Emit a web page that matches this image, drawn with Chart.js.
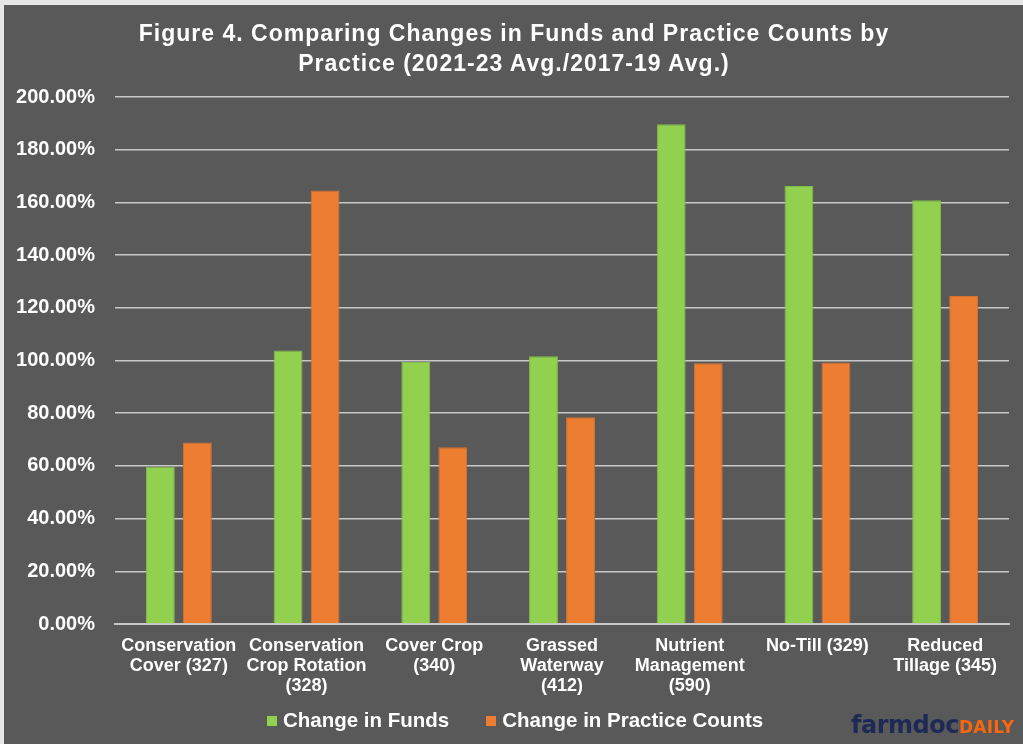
<!DOCTYPE html>
<html>
<head>
<meta charset="utf-8">
<script src="https://cdn.jsdelivr.net/npm/chart.js@4.4.1/dist/chart.umd.min.js"></script>
<style>
  html, body { margin: 0; padding: 0; background: #e6e6e6; }
  #wrap { position: absolute; left: 4px; top: 5px; width: 1019px; height: 739px; background: #595959; }
  #titulo { position: absolute; left: 0; top: 13px; width: 1020px; text-align: center; color: #fff;
            font-family: "Liberation Sans", Arial, sans-serif; font-weight: bold; font-size: 23px;
            line-height: 30px; letter-spacing: 1px; }
  #legenda { position: absolute; left: 263px; top: 703px; color: #fff; white-space: nowrap;
             font-family: "Liberation Sans", Arial, sans-serif; font-weight: bold; font-size: 20.5px; line-height: 24px; }
  #legenda .item { display: inline-block; }
  #legenda .item + .item { margin-left: 37px; }
  #legenda .caixa { display: inline-block; width: 10px; height: 10px; margin-right: 6px; vertical-align: 1px; }
  #logo { position: absolute; left: 847px; top: 706px; font-family: "DejaVu Sans", sans-serif; font-weight: bold; white-space: nowrap; }
  #logo .farm { color: #1c2a55; font-size: 24px; letter-spacing: -0.5px; }
  #logo .daily { color: #f7670f; font-size: 17px; letter-spacing: 0.3px; }
</style>
</head>
<body>
<div id="wrap">
  <canvas id="grafico" width="1019" height="739"></canvas>
  <div id="titulo">Figure 4. Comparing Changes in Funds and Practice Counts by<br>Practice (2021-23 Avg./2017-19 Avg.)</div>
  <div id="legenda"></div>
  <div id="logo"><span class="farm">farmdoc</span><span class="daily">DAILY</span></div>
</div>
<script>
// dados
const praticas = [
  ["Conservation", "Cover (327)"],
  ["Conservation", "Crop Rotation", "(328)"],
  ["Cover Crop", "(340)"],
  ["Grassed", "Waterway", "(412)"],
  ["Nutrient", "Management", "(590)"],
  "No-Till (329)",
  ["Reduced", "Tillage (345)"]
];
const mudancaFundos = [59.7, 103.8, 99.4, 101.6, 189.7, 166.2, 160.8];
const mudancaContagens = [68.9, 164.5, 67.1, 78.5, 99.0, 99.2, 124.5];
const ticksY = [0, 20, 40, 60, 80, 100, 120, 140, 160, 180, 200];

const fonte = "'Liberation Sans', Arial, sans-serif";
const branco = "#ffffff";
const grade = "#c8c8c8";

const ctx = document.getElementById("grafico").getContext("2d");

const grafico = new Chart(ctx, {
  type: "bar",
  data: {
    labels: praticas,
    datasets: [
      {
        label: "Change in Funds",
        data: mudancaFundos,
        backgroundColor: "#92d050",
        borderColor: "#82bd48",
        borderWidth: 1
      },
      {
        label: "Change in Practice Counts",
        data: mudancaContagens,
        backgroundColor: "#ed7d31",
        borderColor: "#d9712c",
        borderWidth: 1
      }
    ]
  },
  options: {
    responsive: false,
    animation: false,
    layout: { padding: { left: 0, right: 14, top: 92, bottom: 40 } },
    datasets: {
      bar: { categoryPercentage: 0.58, barPercentage: 0.78 }
    },
    plugins: {
      title: { display: false },
      legend: { display: false },
      tooltip: { enabled: false }
    },
    scales: {
      x: {
        afterFit: (escala) => { escala.height = 80; },
        grid: { display: false, drawTicks: false },
        border: { color: grade, width: 2 },
        ticks: {
          color: branco,
          autoSkip: false,
          maxRotation: 0,
          padding: 12,
          font: { family: fonte, size: 18, weight: "bold", lineHeight: 1.11 }
        }
      },
      y: {
        min: 0,
        max: 200,
        afterFit: (escala) => { escala.width = 111; },
        afterBuildTicks: (escala) => { escala.ticks = ticksY.map(v => ({ value: v })); },
        grid: { color: grade, lineWidth: 1.5, drawTicks: false },
        border: { display: false },
        ticks: {
          color: branco,
          padding: 20,
          font: { family: fonte, size: 20, weight: "bold" },
          callback: (v) => v.toFixed(2) + "%"
        }
      }
    }
  }
});

// legenda em HTML montada a partir dos datasets
document.getElementById("legenda").innerHTML = grafico.data.datasets.map(ds =>
  `<span class="item"><span class="caixa" style="background:${ds.backgroundColor}"></span>${ds.label}</span>`
).join("");
</script>
</body>
</html>
